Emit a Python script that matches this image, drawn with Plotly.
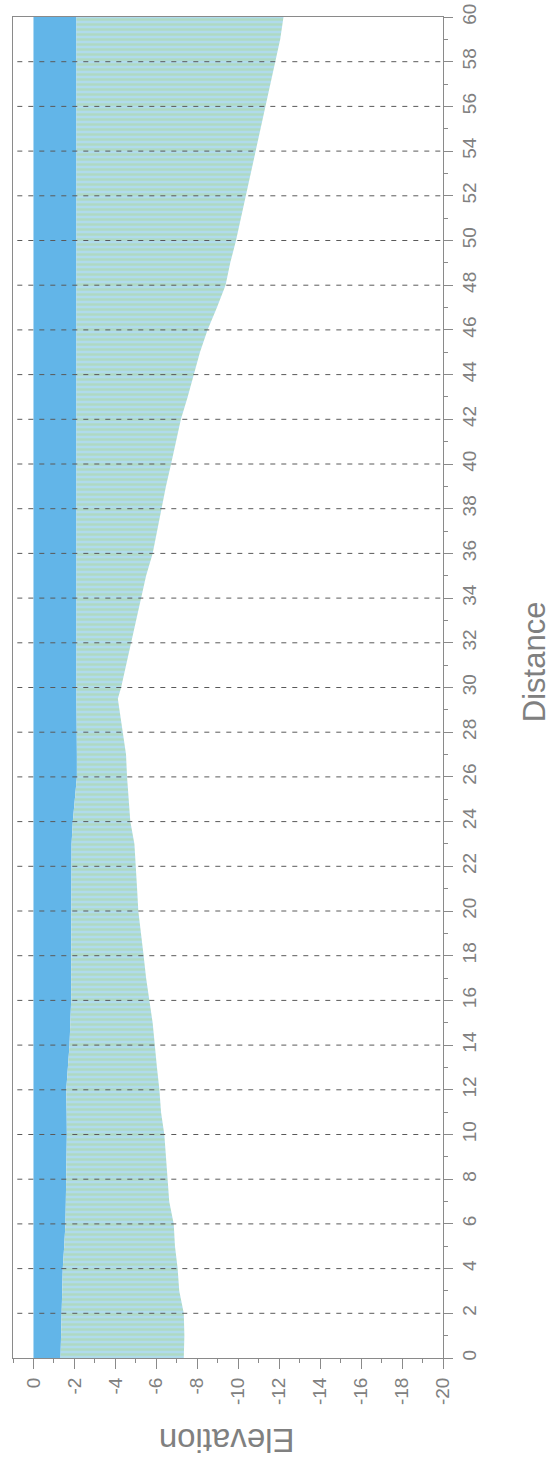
import plotly.graph_objects as go

# Cross-section profile along the channel
distance = [0, 1, 2, 3, 4, 5, 6, 7, 8, 9, 10, 11, 12, 13, 14, 15, 16, 17, 18, 19,
            20, 21, 22, 23, 24, 25, 26, 27, 28, 29, 29.5, 30, 31, 32, 33, 34, 35,
            36, 37, 38, 39, 40, 41, 42, 43, 44, 45, 46, 47, 48, 49, 50, 51, 52,
            53, 54, 55, 56, 57, 58, 59, 60]

# Water surface
surface = [0.0] * len(distance)

# Top of the sediment layer (lower edge of the water column)
interface = [-1.32, -1.35, -1.38, -1.40, -1.43, -1.50, -1.56, -1.58, -1.60, -1.62,
             -1.63, -1.62, -1.60, -1.68, -1.76, -1.80, -1.84, -1.84, -1.84, -1.84,
             -1.84, -1.84, -1.84, -1.86, -1.92, -2.03, -2.12, -2.12, -2.10, -2.10,
             -2.10, -2.10, -2.10, -2.10, -2.10, -2.10, -2.10, -2.10, -2.10, -2.10,
             -2.10, -2.10, -2.10, -2.10, -2.10, -2.10, -2.10, -2.10, -2.10, -2.10,
             -2.10, -2.10, -2.10, -2.10, -2.10, -2.10, -2.10, -2.10, -2.10, -2.10,
             -2.10, -2.10]

# Bed elevation
bed = [-7.34, -7.37, -7.34, -7.12, -7.04, -6.91, -6.85, -6.63, -6.55, -6.47,
       -6.39, -6.23, -6.15, -6.03, -5.94, -5.82, -5.66, -5.50, -5.38, -5.25,
       -5.12, -5.06, -5.01, -4.93, -4.73, -4.64, -4.57, -4.52, -4.36, -4.20,
       -4.12, -4.28, -4.52, -4.77, -5.01, -5.25, -5.50, -5.82, -6.03, -6.23,
       -6.47, -6.72, -6.96, -7.20, -7.53, -7.82, -8.13, -8.50, -8.96, -9.38,
       -9.61, -9.89, -10.13, -10.38, -10.62, -10.87, -11.11, -11.35, -11.60,
       -11.84, -12.05, -12.21]

elev_ticks = list(range(0, -21, -2))
elev_labels = [str(v) for v in elev_ticks]
dist_ticks = list(range(0, 61, 2))
dist_labels = [str(v) for v in dist_ticks]

axis_grey = "#8a8a8a"
label_grey = "#808080"
font_family = "Liberation Sans, Arial, sans-serif"

fig = go.Figure()

fig.add_trace(go.Scatter(x=surface, y=distance, mode="lines",
                         line=dict(width=0, color="#5fb6ea"),
                         hoverinfo="skip", showlegend=False))
fig.add_trace(go.Scatter(x=interface, y=distance, mode="lines",
                         fill="tonextx", fillcolor="#62b5e8",
                         line=dict(width=0, color="#62b5e8"),
                         name="Water", showlegend=False))
fig.add_trace(go.Scatter(x=bed, y=distance, mode="lines",
                         fill="tonextx",
                         fillcolor="#b4dce6",
                         fillpattern=dict(shape="-", fgcolor="#acd89c",
                                          bgcolor="#b0dbec", size=5,
                                          solidity=0.5),
                         line=dict(width=0, color="#b8dcaa"),
                         name="Sediment", showlegend=False))

# Dashed reference lines at every labelled distance, drawn over the fills
for d in dist_ticks[1:-1]:
    fig.add_shape(type="line", xref="paper", yref="y", x0=0.01, x1=1.0,
                  y0=d, y1=d, layer="above",
                  line=dict(color="#5a5a5a", width=1, dash="5px,6px"))

fig.update_xaxes(
    range=[1, -20], tickmode="array", tickvals=elev_ticks, ticktext=elev_labels,
    tickangle=-90, ticks="outside", ticklen=10, tickcolor=axis_grey,
    ticklabelstandoff=1, automargin=False,
    minor=dict(dtick=1, tick0=0, ticks="outside", ticklen=4, tickcolor=axis_grey),
    showline=True, linecolor=axis_grey, linewidth=1, mirror=True,
    showgrid=False, zeroline=False,
    tickfont=dict(family=font_family, size=19, color=label_grey),
)
fig.update_yaxes(
    range=[0, 60], side="right", tickmode="array", tickvals=dist_ticks,
    ticktext=dist_labels, tickangle=-90, ticks="outside", ticklen=9,
    tickcolor=axis_grey, ticklabelstandoff=0, automargin=False,
    minor=dict(dtick=1, tick0=0, ticks="outside", ticklen=4, tickcolor=axis_grey),
    showline=True, linecolor=axis_grey, linewidth=1, mirror=True,
    showgrid=False, zeroline=False,
    tickfont=dict(family=font_family, size=19, color=label_grey),
)

fig.add_annotation(text="Elevation", xref="paper", yref="paper",
                   x=0.496, y=-0.062, showarrow=False, textangle=180,
                   xanchor="center", yanchor="middle",
                   font=dict(family=font_family, size=33, color=label_grey))
fig.add_annotation(text="Distance", xref="paper", yref="paper",
                   x=1.212, y=0.519, showarrow=False, textangle=-90,
                   xanchor="center", yanchor="middle",
                   font=dict(family=font_family, size=31, color=label_grey))

fig.update_layout(
    width=553, height=1463,
    margin=dict(l=13, r=110, t=17, b=105, autoexpand=False),
    paper_bgcolor="white", plot_bgcolor="white",
)

fig.write_html("out.html")
